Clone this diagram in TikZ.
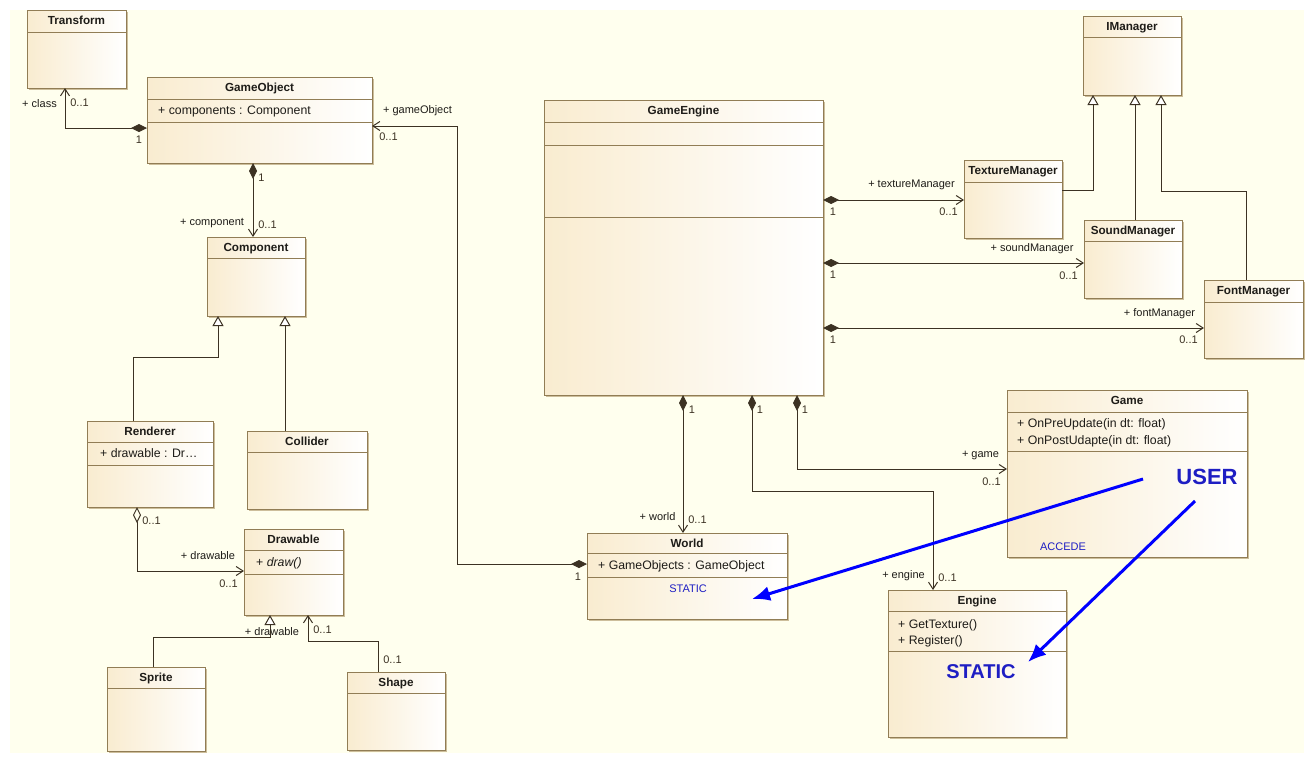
\documentclass[tikz,border=0pt]{standalone}
\usepackage{fontspec}
\setmainfont{Liberation Sans}
\usetikzlibrary{arrows.meta}
\definecolor{bgc}{RGB}{255,255,238}
\definecolor{boxl}{RGB}{249,236,208}
\definecolor{boxd}{RGB}{145,125,85}
\definecolor{shadc}{RGB}{205,190,155}
\definecolor{linec}{RGB}{60,50,35}
\definecolor{txtc}{RGB}{30,28,24}
\definecolor{multc}{RGB}{60,50,35}
\definecolor{bluet}{RGB}{30,30,195}
\definecolor{bluea}{RGB}{0,0,255}
\newcommand\UMLclass[7]{%
  \pgfmathsetmacro\UMLw{#4-#2}\pgfmathsetmacro\UMLh{#5-#3}%
  \fill[shadc] (#2+2,#3+2) rectangle (#4+2,#5+2);
  \node[classbox, minimum width=\UMLw pt, minimum height=\UMLh pt, anchor=north west] (#1) at (#2,#3) {};
  \foreach \s in {#6} {\draw[sepline] (#2,\s) -- (#4,\s);}
  \node[titletxt] (#1-title) at ({(#2+#4)/2},{#3+10.5}) {#7};
}
\begin{document}
\begin{tikzpicture}[x=1pt,y=-1pt,
  classbox/.style={rectangle, draw=boxd, line width=0.9pt, left color=boxl, right color=white, inner sep=0pt, outer sep=0pt},
  sepline/.style={draw=boxd, line width=0.9pt},
  titletxt/.style={inner sep=0pt, text height=8.4pt, text depth=0pt, font=\fontsize{11.7}{14}\selectfont\bfseries, text=txtc},
  comptxt/.style={inner sep=0pt, text height=8.8pt, text depth=0pt, font=\fontsize{12.3}{15}\selectfont, text=txtc, anchor=west},
  lab/.style={inner sep=0pt, text height=7.9pt, text depth=0pt, font=\fontsize{11}{13}\selectfont, text=txtc},
  mult/.style={lab, text=multc},
  bluetxt/.style={inner sep=0pt, text height=7.9pt, text depth=0pt, font=\fontsize{11}{13}\selectfont, text=bluet},
  bigblue/.style={inner sep=0pt, text=bluet, font=\fontsize{#1}{#1}\selectfont\bfseries},
  conn/.style={draw=linec, line width=1pt},
  comp/.style={conn, arrows={Diamond[length=16pt,width=8pt]-Straight Barb[length=7pt,width=9pt]}},
  aggr/.style={conn, arrows={Diamond[length=16pt,width=8pt,open]-Straight Barb[length=7pt,width=9pt]}},
  assoc/.style={conn, arrows={-Straight Barb[length=7pt,width=9pt]}},
  inherit/.style={conn, arrows={-Triangle[length=10pt,width=11pt,fill=white]}},
  note/.style={draw=bluea, line width=3pt, arrows={-Latex[length=18pt,width=15pt]}}
]
\useasboundingbox (0,0) rectangle (1314,763);
\fill[bgc] (10,10) rectangle (1304,753);

% classes
\UMLclass{Transform}{27}{10}{126}{88}{32}{Transform}
\UMLclass{GameObject}{147}{77}{372}{163}{99,122}{GameObject}
\UMLclass{Component}{207}{237}{305}{316}{258}{Component}
\UMLclass{Renderer}{87}{421}{213}{507}{442,465}{Renderer}
\UMLclass{Collider}{247}{431}{367}{509}{452}{Collider}
\UMLclass{Drawable}{244}{529}{343}{615}{550,574}{Drawable}
\UMLclass{Sprite}{107}{667}{205}{751}{688}{Sprite}
\UMLclass{Shape}{347}{672}{445}{750}{693}{Shape}
\UMLclass{GameEngine}{544}{100}{823}{395}{122,145,217}{GameEngine}
\UMLclass{IManager}{1083}{16}{1181}{95}{37}{IManager}
\UMLclass{TextureManager}{964}{160}{1062}{238}{182}{TextureManager}
\UMLclass{SoundManager}{1084}{220}{1182}{298}{241}{SoundManager}
\UMLclass{FontManager}{1204}{280}{1303}{358}{302}{FontManager}
\UMLclass{Game}{1007}{390}{1247}{557}{412,451}{Game}
\UMLclass{World}{587}{533}{787}{619}{553,577}{World}
\UMLclass{Engine}{888}{590}{1066}{737}{611,651}{Engine}

% compartment texts
\node[comptxt] (go-a) at (158,110) {+ components : Component};
\node[comptxt] (re-a) at (100,453) {+ drawable : Dr…};
\node[comptxt] (dr-m) at (256,562) {+ \textit{draw()}};
\node[comptxt] (ga-m1) at (1017,423) {+ OnPreUpdate(in dt: float)};
\node[comptxt] (ga-m2) at (1017,440) {+ OnPostUdapte(in dt: float)};
\node[comptxt] (wo-a) at (598,565) {+ GameObjects : GameObject};
\node[comptxt] (en-m1) at (898,624) {+ GetTexture()};
\node[comptxt] (en-m2) at (898,640) {+ Register()};
\node[bluetxt] (wo-s) at (688,589) {STATIC};
\node[bluetxt] (ga-acc) at (1063,547) {ACCEDE};
\node[bigblue=22, text height=15.8pt, text depth=0pt] (ga-user) at (1207,477) {USER};
\node[bigblue=20, text height=14.4pt, text depth=0pt] (en-s) at (981,671) {STATIC};

% connectors
\draw[comp] (GameObject.west |- 0,128) -| (Transform.south -| 65,0);
\draw[comp] (GameObject.south -| 253,0) -- (Component.north -| 253,0);
\draw[comp] (World.west |- 0,564) -| (457,126) -- (GameObject.east |- 0,126);
\draw[inherit] (Renderer.north -| 133,0) |- (218,357) -- (Component.south -| 218,0);
\draw[inherit] (Collider.north -| 285,0) -- (Component.south -| 285,0);
\draw[aggr] (Renderer.south -| 137,0) |- (Drawable.west |- 0,571);
\draw[inherit] (Sprite.north -| 153,0) |- (270,637) -- (Drawable.south -| 270,0);
\draw[assoc] (Shape.north -| 378,0) |- (308,641) -- (Drawable.south -| 308,0);
\draw[comp] (GameEngine.east |- 0,200) -- (TextureManager.west |- 0,200);
\draw[comp] (GameEngine.east |- 0,263) -- (SoundManager.west |- 0,263);
\draw[comp] (GameEngine.east |- 0,328) -- (FontManager.west |- 0,328);
\draw[inherit] (TextureManager.east |- 0,190) -| (IManager.south -| 1093,0);
\draw[inherit] (SoundManager.north -| 1135,0) -- (IManager.south -| 1135,0);
\draw[inherit] (FontManager.north -| 1246,0) |- (1161,191) -- (IManager.south -| 1161,0);
\draw[comp] (GameEngine.south -| 683,0) -- (World.north -| 683,0);
\draw[comp] (GameEngine.south -| 752,0) |- (933,491) -- (Engine.north -| 933,0);
\draw[comp] (GameEngine.south -| 797,0) |- (Game.west |- 0,469);

% connector labels
\node[lab] (l-class) at (39.5,104) {+ class};
\node[mult] (m-tr) at (79.5,103) {0..1};
\node[mult] (m-go1) at (139,140) {1};
\node[lab] (l-gobj) at (417.5,110) {+ gameObject};
\node[mult] (m-go2) at (388.5,137) {0..1};
\node[mult] (m-go3) at (261.5,178) {1};
\node[lab] (l-comp) at (212,222) {+ component};
\node[mult] (m-co) at (267.5,225) {0..1};
\node[mult] (m-re) at (151.5,521) {0..1};
\node[lab] (l-draw1) at (208,556) {+ drawable};
\node[mult] (m-dr1) at (228.5,584) {0..1};
\node[lab] (l-draw2) at (272,632) {+ drawable};
\node[mult] (m-dr2) at (322.5,630) {0..1};
\node[mult] (m-sh) at (392.5,660) {0..1};
\node[mult] (m-ge1) at (833,212) {1};
\node[mult] (m-ge2) at (833,275) {1};
\node[mult] (m-ge3) at (833,340) {1};
\node[lab] (l-tex) at (911.5,184) {+ textureManager};
\node[mult] (m-tex) at (948.5,212) {0..1};
\node[lab] (l-snd) at (1032,248) {+ soundManager};
\node[mult] (m-snd) at (1068.5,276) {0..1};
\node[lab] (l-fnt) at (1159.5,313) {+ fontManager};
\node[mult] (m-fnt) at (1188.5,340) {0..1};
\node[mult] (m-ge4) at (692,410) {1};
\node[mult] (m-ge5) at (760,410) {1};
\node[mult] (m-ge6) at (805,410) {1};
\node[lab] (l-world) at (657.5,517) {+ world};
\node[mult] (m-wo) at (697.5,520) {0..1};
\node[lab] (l-game) at (980.5,454) {+ game};
\node[mult] (m-ga) at (991.5,482) {0..1};
\node[lab] (l-eng) at (903.5,575) {+ engine};
\node[mult] (m-en) at (947.5,578) {0..1};
\node[mult] (m-wo2) at (578,577) {1};

% blue note arrows
\coordinate (u1) at (1143,479);
\coordinate (w1) at (752,599);
\coordinate (u2) at (1195,501);
\coordinate (e1) at (1028,662);
\draw[note] (u1) -- (w1);
\draw[note] (u2) -- (e1);
\end{tikzpicture}
\end{document}
